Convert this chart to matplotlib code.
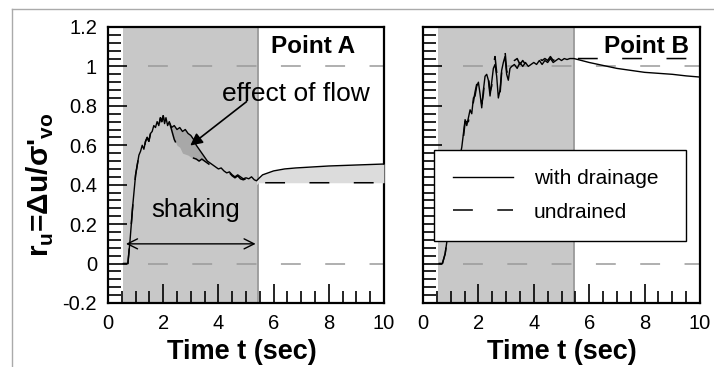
import numpy as np
import matplotlib
matplotlib.use("Agg")
import matplotlib.pyplot as plt
from matplotlib.ticker import MultipleLocator, FixedLocator, FixedFormatter

plt.rcParams['font.family'] = 'Liberation Sans'
plt.rcParams['mathtext.fontset'] = 'custom'
plt.rcParams['mathtext.rm'] = 'Liberation Sans'
plt.rcParams['mathtext.bf'] = 'Liberation Sans:bold'

# Point A: excess pore pressure ratio, drained vs undrained
t_a = [0.55, 0.72, 0.80, 0.90, 1.00, 1.06, 1.12, 1.18, 1.24, 1.30, 1.36, 1.42,
       1.48, 1.54, 1.60, 1.66, 1.72, 1.78, 1.84, 1.90, 1.95, 2.00, 2.05, 2.10,
       2.16, 2.22, 2.30, 2.40, 2.50, 2.60, 2.70, 2.80, 2.90, 3.00, 3.10, 3.20,
       3.30, 3.40, 3.50, 3.60, 3.70, 3.80, 3.90, 4.00, 4.10, 4.20, 4.30, 4.40,
       4.50, 4.60, 4.70, 4.80, 4.90, 5.00, 5.10, 5.20, 5.30, 5.38, 5.45, 5.60,
       5.80, 6.00, 6.40, 6.80, 7.40, 8.00, 9.00, 10.00]
drained_a = [0.00, 0.00, 0.12, 0.30, 0.45, 0.50, 0.55, 0.57, 0.60, 0.58, 0.62,
             0.64, 0.62, 0.66, 0.67, 0.70, 0.69, 0.72, 0.70, 0.74, 0.72, 0.75,
             0.71, 0.74, 0.70, 0.72, 0.69, 0.70, 0.68, 0.69, 0.67, 0.68, 0.66,
             0.65, 0.63, 0.60, 0.58, 0.56, 0.54, 0.52, 0.51, 0.50, 0.49, 0.48,
             0.485, 0.47, 0.46, 0.465, 0.45, 0.44, 0.45, 0.44, 0.43, 0.435,
             0.43, 0.44, 0.425, 0.42, 0.43, 0.45, 0.46, 0.47, 0.48, 0.485,
             0.49, 0.495, 0.50, 0.505]
undrained_a = [0.00, 0.00, 0.12, 0.30, 0.45, 0.50, 0.55, 0.57, 0.60, 0.58, 0.62,
               0.64, 0.62, 0.66, 0.67, 0.70, 0.69, 0.72, 0.70, 0.74, 0.72, 0.75,
               0.71, 0.74, 0.70, 0.72, 0.68, 0.63, 0.60, 0.59, 0.56, 0.555, 0.55,
               0.54, 0.535, 0.53, 0.52, 0.53, 0.52, 0.51, 0.50, 0.495, 0.49,
               0.475, 0.48, 0.465, 0.455, 0.46, 0.445, 0.435, 0.445, 0.43, 0.425,
               0.43, 0.42, 0.43, 0.415, 0.40, 0.41, 0.41, 0.41, 0.41, 0.41, 0.41,
               0.41, 0.41, 0.41, 0.41]

# Point B
t_b = [0.58, 0.70, 0.80, 0.90, 1.00, 1.10, 1.20, 1.30, 1.40, 1.46, 1.52, 1.58,
       1.64, 1.70, 1.76, 1.82, 1.88, 1.94, 2.00, 2.06, 2.12, 2.18, 2.24, 2.30,
       2.36, 2.42, 2.48, 2.54, 2.60, 2.66, 2.72, 2.78, 2.84, 2.90, 2.96, 3.02,
       3.08, 3.14, 3.20, 3.30, 3.40, 3.50, 3.60, 3.70, 3.80, 3.90, 4.00, 4.10,
       4.20, 4.30, 4.40, 4.50, 4.60, 4.70, 4.80, 4.90, 5.00, 5.10, 5.20, 5.30,
       5.45, 6.00, 6.50, 7.00, 7.50, 8.00, 8.50, 9.00, 9.50, 10.00]
drained_b = [0.00, 0.00, 0.05, 0.15, 0.28, 0.38, 0.45, 0.52, 0.59, 0.66, 0.73,
             0.70, 0.74, 0.78, 0.76, 0.84, 0.85, 0.90, 0.92, 0.86, 0.79, 0.88,
             0.95, 0.96, 0.93, 0.85, 0.92, 0.99, 1.01, 0.95, 0.84, 0.88, 0.98,
             1.02, 1.05, 0.96, 0.93, 0.99, 1.00, 1.01, 0.99, 1.02, 1.00, 1.02,
             1.00, 1.01, 1.02, 1.01, 1.03, 1.01, 1.03, 1.02, 1.04, 1.02, 1.03,
             1.04, 1.03, 1.04, 1.035, 1.04, 1.04, 1.02, 1.005, 0.99, 0.98, 0.97,
             0.965, 0.96, 0.952, 0.946]
undrained_b = [0.00, 0.00, 0.05, 0.15, 0.28, 0.38, 0.45, 0.52, 0.60, 0.64, 0.72,
               0.72, 0.72, 0.80, 0.78, 0.82, 0.87, 0.91, 0.93, 0.88, 0.81, 0.86,
               0.96, 0.97, 0.95, 0.87, 0.90, 1.01, 1.05, 0.97, 0.86, 0.86, 0.97,
               1.04, 1.08, 0.98, 0.95, 1.02, 1.01, 1.03, 1.04, 1.01, 1.03, 1.01,
               1.03, 1.02, 1.04, 1.02, 1.04, 1.03, 1.04, 1.03, 1.05, 1.03, 1.04,
               1.04, 1.045, 1.04, 1.04, 1.045, 1.04, 1.04, 1.04, 1.04, 1.04, 1.04,
               1.04, 1.04, 1.04, 1.04]

y_ticks = [-0.2, 0.0, 0.2, 0.4, 0.6, 0.8, 1.0, 1.2]
y_ticklabels = ['-0.2', '0', '0.2', '0.4', '0.6', '0.8', '1', '1.2']

shake_start, shake_end = 0.55, 5.45

fig = plt.figure(figsize=(7.14, 3.67), dpi=100)

# thin frame around the figure, drawn on a background axes
bg = fig.add_axes([0, 0, 1, 1], zorder=-5)
bg.set_xlim(0, 714)
bg.set_ylim(367, 0)
bg.axis('off')
bg.plot([12, 714], [9, 9], color='#aaaaaa', lw=1)
bg.plot([12, 12], [9, 367], color='#aaaaaa', lw=1)

ax_a = fig.add_axes([108/714, 1 - 303/367, 276/714, 276/367])
ax_b = fig.add_axes([423/714, 1 - 303/367, 277/714, 276/367])

DASH = (13, 16)

def setup(ax, t, dr, und, label, label_x):
    ax.axvspan(shake_start, shake_end, color='#c8c8c8', lw=0, zorder=0)
    ax.axvline(shake_end, color='#9a9a9a', lw=1.3, zorder=1)
    for yref in (0, 1):
        ax.plot([1.45, 10], [yref, yref], color='#9a9a9a', lw=1.1,
                dashes=DASH, zorder=2)
    ax.plot(t, dr, color='black', lw=1.0, zorder=5, label='with drainage')
    ax.plot(t, und, color='black', lw=1.1, dashes=DASH, zorder=4,
            label='undrained')
    ax.set_xlim(0, 10)
    ax.set_ylim(-0.2, 1.2)
    ax.xaxis.set_major_locator(MultipleLocator(2))
    ax.xaxis.set_minor_locator(MultipleLocator(0.5))
    ax.yaxis.set_major_locator(FixedLocator(y_ticks))
    ax.yaxis.set_major_formatter(FixedFormatter(y_ticklabels))
    ax.yaxis.set_minor_locator(MultipleLocator(0.04))
    for s in ax.spines.values():
        s.set_linewidth(1.6)
    ax.set_xlabel('Time t (sec)', fontsize=19.5, fontweight='bold')
    ax.text(label_x, 0.93, label, transform=ax.transAxes, ha='right',
            va='center', fontsize=17.5, fontweight='bold', zorder=6)

setup(ax_a, t_a, drained_a, undrained_a, 'Point A', 0.895)
setup(ax_b, t_b, drained_b, undrained_b, 'Point B', 0.96)

ta = np.array(t_a)
da = np.array(drained_a)
ua = np.array(undrained_a)
ax_a.fill_between(ta, ua, da, where=(ta >= 2.3) & (ta <= 3.6),
                  color='#a8a8a8', lw=0, zorder=3)
ax_a.fill_between(ta, ua, da, where=ta >= 5.38, color='#dcdcdc', lw=0, zorder=3)

ax_a.set_ylabel("r$_\\mathbf{u}$=Δu/σ'$_\\mathbf{vo}$", fontsize=21.5,
                fontweight='bold')
ax_a.yaxis.set_label_coords(-0.19, 0.43)
ax_a.xaxis.set_label_coords(0.484, -0.13)
ax_b.xaxis.set_label_coords(0.5, -0.13)

ax_a.annotate('', xy=(shake_start, 0.1), xytext=(shake_end, 0.1),
              arrowprops=dict(arrowstyle='<->', color='black', lw=1,
                              mutation_scale=18), zorder=6)
ax_a.text(3.18, 0.27, 'shaking', ha='center', va='center', fontsize=18.5)
ax_a.annotate('', xy=(2.9, 0.59), xytext=(5.1, 0.83),
              arrowprops=dict(arrowstyle='-|>', color='black', lw=1.2,
                              mutation_scale=18), zorder=6)
ax_a.text(6.8, 0.86, 'effect of flow', ha='center', va='center',
          fontsize=19, zorder=6)

leg = ax_b.legend(loc='center', bbox_to_anchor=(0.04, 0.217, 0.909, 0.345),
                  mode='expand', fontsize=15, frameon=True, fancybox=False,
                  edgecolor='black', framealpha=1, borderpad=0.9,
                  labelspacing=0.7, handlelength=2.9, handletextpad=1.0,
                  borderaxespad=0)
leg.get_frame().set_linewidth(1.0)
leg.set_zorder(10)

# inward ticks, set last so nothing overrides them
for ax in (ax_a, ax_b):
    ax.tick_params(which='both', direction='in', top=False, right=False,
                   left=True, bottom=True, width=1.2, labelsize=14.5, pad=8,
                   color='black')
    ax.tick_params(which='major', length=14)
    ax.tick_params(which='minor', length=9)
ax_b.tick_params(axis='y', which='both', labelleft=False)

fig.savefig('out.png', dpi=100)
